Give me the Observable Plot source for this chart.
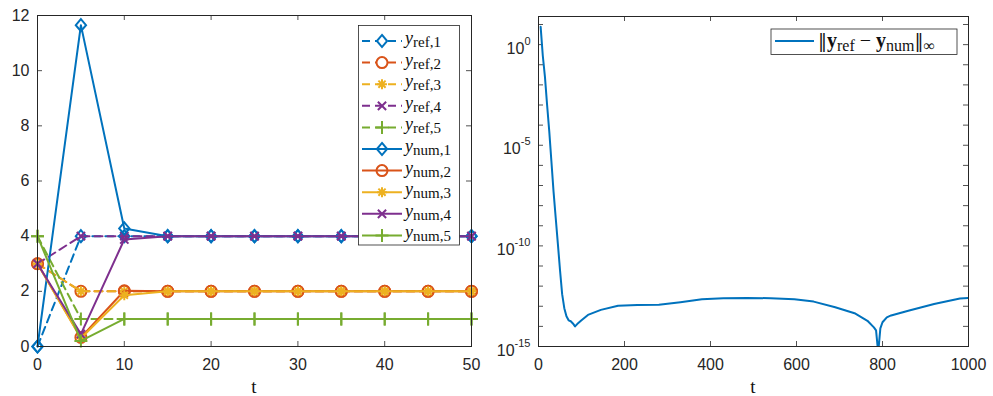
<!DOCTYPE html>
<html>
<head>
<meta charset="utf-8">
<script src="https://cdn.jsdelivr.net/npm/d3@7"></script>
<script src="https://cdn.jsdelivr.net/npm/@observablehq/plot@0.6"></script>
<style>
  body { margin: 0; background: #fff; }
  #wrap { position: relative; width: 993px; height: 396px; overflow: hidden; background: #fff; }
  #left { position: absolute; left: 0; top: 0; }
  #right { position: absolute; left: 485px; top: 0; }
  #overlay { position: absolute; left: 0; top: 0; pointer-events: none; }
</style>
</head>
<body>
<div id="wrap"><div id="left"></div><div id="right"></div><svg id="overlay" width="993" height="396"></svg></div>
<script>
// ---------- data (left panel) ----------
const t = [0, 5, 10, 15, 20, 25, 30, 35, 40, 45, 50];
const yRef1 = [0, 4, 4, 4, 4, 4, 4, 4, 4, 4, 4];
const yRef2 = [3, 2, 2, 2, 2, 2, 2, 2, 2, 2, 2];
const yRef3 = [3, 2, 2, 2, 2, 2, 2, 2, 2, 2, 2];
const yRef4 = [3, 4, 4, 4, 4, 4, 4, 4, 4, 4, 4];
const yRef5 = [4, 1, 1, 1, 1, 1, 1, 1, 1, 1, 1];
const yNum1 = [0, 11.65, 4.28, 4, 4, 4, 4, 4, 4, 4, 4];
const yNum2 = [3, 0.33, 2.02, 2, 2, 2, 2, 2, 2, 2, 2];
const yNum3 = [3, 0.3, 1.86, 2, 2, 2, 2, 2, 2, 2, 2];
const yNum4 = [3, 0.45, 3.88, 4, 4, 4, 4, 4, 4, 4, 4];
const yNum5 = [4, 0.2, 1, 1, 1, 1, 1, 1, 1, 1, 1];
const legendSubs = ["ref,1", "ref,2", "ref,3", "ref,4", "ref,5", "num,1", "num,2", "num,3", "num,4", "num,5"];
const xTicksL = [0, 10, 20, 30, 40, 50];
const yTicksL = [0, 2, 4, 6, 8, 10, 12];

// ---------- data (right panel) ----------
const tErr = [5, 10, 15, 20, 25, 30, 35, 40, 45, 50, 55, 60, 65, 70, 75, 80, 85, 90, 100, 115, 145, 185, 230, 280, 330, 380, 430, 485, 540, 595, 640, 690, 735, 765, 780, 785, 790, 795, 800, 810, 820, 860, 920, 980, 1000];
const err = [7.65, 0.28, 2.5e-2, 1e-3, 5e-5, 1.6e-6, 5e-8, 2.5e-9, 1.3e-10, 6.3e-12, 4e-13, 8e-14, 3.2e-14, 2e-14, 1.8e-14, 1.4e-14, 1e-14, 1.3e-14, 2e-14, 3.7e-14, 6.6e-14, 1.07e-13, 1.15e-13, 1.2e-13, 1.6e-13, 2.2e-13, 2.5e-13, 2.6e-13, 2.5e-13, 2.2e-13, 1.7e-13, 8.9e-14, 4.5e-14, 1.9e-14, 8.9e-15, 6.3e-15, 5e-16, 8e-15, 1.6e-14, 2.8e-14, 3.5e-14, 6e-14, 1.3e-13, 2.4e-13, 2.6e-13];
const xTicksR = [0, 200, 400, 600, 800, 1000];
const yTicksR = [1e-15, 1e-14, 1e-13, 1e-12, 1e-11, 1e-10, 1e-9, 1e-8, 1e-7, 1e-6, 1e-5, 1e-4, 1e-3, 1e-2, 1e-1, 1e0, 1e1];
const yLabelsR = [1e-15, 1e-10, 1e-5, 1e0];

// ---------- styles ----------
const colors = ["#0072BD", "#D95319", "#EDB120", "#7E2F8E", "#77AC30"];
const axisColor = "#262626";
const fontSans = "'Liberation Sans', Arial, Helvetica, sans-serif";
const fontSerif = "'Liberation Serif', 'Times New Roman', serif";

// MATLAB-like marker shapes (size = pi * r^2, r = half-extent)
const rOf = size => Math.sqrt(size / Math.PI);
const symDiamond = {draw(c, s) { const r = rOf(s) * 1.1, w = r * 0.85; c.moveTo(0, -r); c.lineTo(w, 0); c.lineTo(0, r); c.lineTo(-w, 0); c.closePath(); }};
const symCircle = {draw(c, s) { const r = rOf(s); c.moveTo(r, 0); c.arc(0, 0, r, 0, 2 * Math.PI); }};
const symPlus = {draw(c, s) { const r = rOf(s); c.moveTo(-r, 0); c.lineTo(r, 0); c.moveTo(0, -r); c.lineTo(0, r); }};
const symTimes = {draw(c, s) { const r = rOf(s) * 0.75; c.moveTo(-r, -r); c.lineTo(r, r); c.moveTo(-r, r); c.lineTo(r, -r); }};
const symAster = {draw(c, s) { const r = rOf(s), q = r * 0.72; c.moveTo(-r, 0); c.lineTo(r, 0); c.moveTo(0, -r); c.lineTo(0, r); c.moveTo(-q, -q); c.lineTo(q, q); c.moveTo(-q, q); c.lineTo(q, -q); }};
const symbols = [symDiamond, symCircle, symAster, symTimes, symPlus];
const radii = [5.5, 5.5, 5, 5.5, 6.5];

const refSeries = [yRef1, yRef2, yRef3, yRef4, yRef5];
const numSeries = [yNum1, yNum2, yNum3, yNum4, yNum5];
const rows = vals => t.map((x, i) => ({t: x, v: vals[i]}));
const errRows = tErr.map((x, i) => ({t: x, e: err[i]}));

function boxTicks(xTicks, yTicks, fw, fh) {
  const st = {stroke: axisColor, strokeOpacity: 1, strokeWidth: 0.8};
  return [
    Plot.gridY({ticks: yTicks, ...st, insetRight: fw - 5}),
    Plot.gridY({ticks: yTicks, ...st, insetLeft: fw - 5}),
    Plot.gridX({ticks: xTicks, ...st, insetTop: fh - 5}),
    Plot.gridX({ticks: xTicks, ...st, insetBottom: fh - 5})
  ];
}

// ---------- left panel ----------
const L = {width: 485, height: 396, ml: 37, mr: 14, mt: 15, mb: 50};
const leftMarks = [...boxTicks(xTicksL, yTicksL, L.width - L.ml - L.mr, L.height - L.mt - L.mb)];
refSeries.forEach((s, i) => {
  leftMarks.push(Plot.line(rows(s), {x: "t", y: "v", stroke: colors[i], strokeWidth: 2, strokeDasharray: "8,5"}));
  leftMarks.push(Plot.dot(rows(s), {x: "t", y: "v", symbol: symbols[i], r: radii[i], stroke: colors[i], fill: "none", strokeWidth: 2}));
});
numSeries.forEach((s, i) => {
  leftMarks.push(Plot.line(rows(s), {x: "t", y: "v", stroke: colors[i], strokeWidth: 2}));
  leftMarks.push(Plot.dot(rows(s), {x: "t", y: "v", symbol: symbols[i], r: radii[i], stroke: colors[i], fill: "none", strokeWidth: 2}));
});
leftMarks.push(Plot.frame({stroke: axisColor, strokeWidth: 1}));
leftMarks.push(Plot.axisX({ticks: xTicksL, tickSize: 0, tickPadding: 12, label: null, fontSize: 16, fill: axisColor, tickFormat: d => String(d)}));
leftMarks.push(Plot.axisY({ticks: yTicksL, tickSize: 0, tickPadding: 8, label: null, fontSize: 16, fill: axisColor, tickFormat: d => String(d)}));

const leftPlot = Plot.plot({
  width: L.width, height: L.height,
  marginLeft: L.ml, marginRight: L.mr, marginTop: L.mt, marginBottom: L.mb,
  x: {domain: [0, 50]}, y: {domain: [0, 12]},
  style: {fontFamily: fontSans, fontSize: "16px", color: axisColor, background: "transparent", overflow: "visible"},
  marks: leftMarks
});
document.getElementById("left").append(leftPlot);

// ---------- right panel ----------
const R = {width: 508, height: 396, ml: 53, mr: 25, mt: 16, mb: 50};
const rightPlot = Plot.plot({
  width: R.width, height: R.height,
  marginLeft: R.ml, marginRight: R.mr, marginTop: R.mt, marginBottom: R.mb,
  x: {domain: [0, 1000]}, y: {type: "log", domain: [1e-15, 25]},
  style: {fontFamily: fontSans, fontSize: "16px", color: axisColor, background: "transparent", overflow: "visible"},
  marks: [
    ...boxTicks(xTicksR, yTicksR, R.width - R.ml - R.mr, R.height - R.mt - R.mb),
    Plot.line(errRows, {x: "t", y: "e", stroke: colors[0], strokeWidth: 2, clip: true}),
    Plot.frame({stroke: axisColor, strokeWidth: 1}),
    Plot.axisX({ticks: xTicksR, tickSize: 0, tickPadding: 12, label: null, fontSize: 16, fill: axisColor, tickFormat: d => String(d)}),
    Plot.axisY({ticks: yLabelsR, tickSize: 0, tickPadding: 8, label: null, fontSize: 16, fill: axisColor, dy: 4,
      tickFormat: d => `10^${Math.round(Math.log10(d))}`})
  ]
});
document.getElementById("right").append(rightPlot);

// superscript exponents on the log axis labels
const NS = "http://www.w3.org/2000/svg";
rightPlot.querySelectorAll('[aria-label="y-axis tick label"] text').forEach(el => {
  const s = el.textContent;
  if (!s.includes("^")) return;
  const [b, e] = s.split("^");
  el.textContent = "";
  const t1 = document.createElementNS(NS, "tspan"); t1.textContent = b;
  const t2 = document.createElementNS(NS, "tspan"); t2.textContent = e;
  t2.setAttribute("dy", "-9"); t2.setAttribute("font-size", "11");
  el.append(t1, t2);
});

// ---------- overlay: legends and axis labels ----------
const ov = d3.select("#overlay");
// left legend
const lg = ov.append("g");
lg.append("rect").attr("x", 358.5).attr("y", 25.5).attr("width", 101).attr("height", 219.5)
  .attr("fill", "#fff").attr("stroke", axisColor).attr("stroke-width", 0.8);
legendSubs.forEach((sub, i) => {
  const k = i % 5, dashed = i < 5;
  const cy = 41 + i * 21.6;
  const g = lg.append("g");
  g.append("line").attr("x1", 362).attr("x2", 402).attr("y1", cy).attr("y2", cy)
    .attr("stroke", colors[k]).attr("stroke-width", 2)
    .attr("stroke-dasharray", dashed ? "8,5" : null);
  g.append("path").attr("transform", `translate(382,${cy})`)
    .attr("d", d3.symbol(symbols[k], Math.PI * radii[k] * radii[k])())
    .attr("fill", dashed ? "#fff" : "none").attr("stroke", colors[k]).attr("stroke-width", 2);
  const tx = g.append("text").attr("x", 405).attr("y", cy + 3)
    .attr("font-family", fontSerif).attr("font-size", 18).attr("fill", "#111");
  tx.append("tspan").attr("font-style", "italic").text("y");
  tx.append("tspan").attr("font-size", 15).attr("dy", 3).text(sub);
});

// right legend
const rg = ov.append("g");
rg.append("rect").attr("x", 771).attr("y", 29).attr("width", 186).attr("height", 25.5)
  .attr("fill", "#fff").attr("stroke", axisColor).attr("stroke-width", 0.8);
rg.append("line").attr("x1", 775).attr("x2", 814).attr("y1", 41).attr("y2", 41)
  .attr("stroke", colors[0]).attr("stroke-width", 2);
const rt = rg.append("text").attr("x", 818).attr("y", 46.5)
  .attr("font-family", fontSerif).attr("font-size", 20).attr("fill", "#111");
const bars = "'DejaVu Serif', 'DejaVu Sans', serif";
rt.append("tspan").attr("font-family", bars).attr("font-size", 18).text("\u2016");
rt.append("tspan").attr("font-weight", "bold").text("y");
rt.append("tspan").attr("font-size", 16).attr("dy", 4.5).text("ref");
rt.append("tspan").attr("dy", -4.5).text("\u2005\u2212\u2005");
rt.append("tspan").attr("font-weight", "bold").text("y");
rt.append("tspan").attr("font-size", 16).attr("dy", 4.5).text("num");
rt.append("tspan").attr("dy", -4.5).attr("font-family", bars).attr("font-size", 18).text("\u2016");
rt.append("tspan").attr("font-size", 16).attr("dy", 4.5).text("\u221E");

// x-axis labels "t"
[[254, "t"], [753, "t"]].forEach(([x, s]) => {
  ov.append("text").attr("x", x).attr("y", 393).attr("text-anchor", "middle")
    .attr("font-family", fontSerif).attr("font-size", 19).attr("fill", "#111").text(s);
});
</script>
</body>
</html>
